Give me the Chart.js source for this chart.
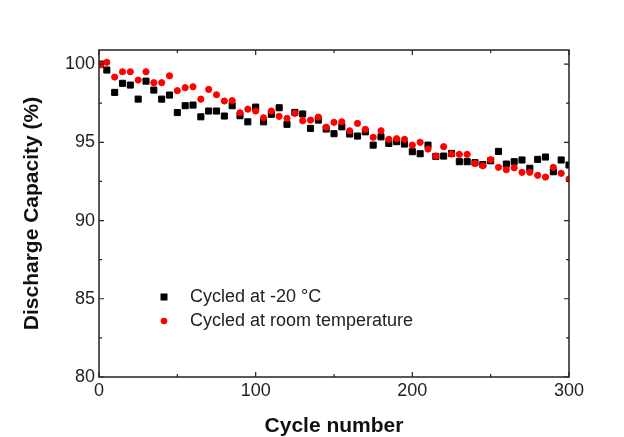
<!DOCTYPE html>
<html>
<head>
<meta charset="utf-8">
<script src="https://cdn.jsdelivr.net/npm/chart.js@4.4.1/dist/chart.umd.min.js"></script>
<style>
  html, body { margin: 0; padding: 0; background: #fff; }
</style>
</head>
<body>
<canvas id="grafico" width="624" height="437"></canvas>
<script>
// cycle numbers (x) shared by both series
const cicli = [1, 5, 10, 15, 20, 25, 30, 35, 40, 45, 50, 55, 60, 65, 70, 75, 80, 85, 90, 95,
    100, 105, 110, 115, 120, 125, 130, 135, 140, 145, 150, 155, 160, 165, 170, 175, 180, 185, 190, 195,
    200, 205, 210, 215, 220, 225, 230, 235, 240, 245, 250, 255, 260, 265, 270, 275, 280, 285, 290, 295, 300];

// cycled at -20 °C
const freddo = [100.0, 99.62, 98.19, 98.77, 98.66, 97.76, 98.91, 98.34, 97.76, 98.02,
    96.90, 97.34, 97.38, 96.63, 97.00, 97.00, 96.68, 97.34, 96.70, 96.31,
    97.25, 96.31, 96.79, 97.21, 96.15, 96.91, 96.81, 95.89, 96.42, 95.85,
    95.55, 95.99, 95.53, 95.40, 95.67, 94.82, 95.35, 94.93, 95.04, 94.89,
    94.40, 94.27, 94.82, 94.10, 94.12, 94.29, 93.76, 93.76, 93.70, 93.58,
    93.82, 94.42, 93.61, 93.76, 93.87, 93.34, 93.91, 94.06, 93.12, 93.87, 93.55];

// cycled at room temperature
const ambiente = [99.95, 100.11, 99.17, 99.51, 99.51, 98.98, 99.51, 98.81, 98.81, 99.25,
    98.30, 98.49, 98.55, 97.76, 98.38, 98.04, 97.64, 97.66, 96.89, 97.12,
    97.00, 96.57, 97.00, 96.66, 96.53, 96.85, 96.38, 96.42, 96.61, 95.97,
    96.28, 96.31, 95.74, 96.21, 95.83, 95.32, 95.74, 95.19, 95.23, 95.19,
    94.82, 95.00, 94.57, 94.12, 94.72, 94.25, 94.23, 94.23, 93.65, 93.50,
    93.89, 93.40, 93.25, 93.37, 93.08, 93.08, 92.89, 92.78, 93.40, 93.02, 92.65];

const xTicks = [0, 100, 200, 300];
const xMinori = [50, 150, 250];
const yTicks = [80, 85, 90, 95, 100];
const yMinori = [82.5, 87.5, 92.5, 97.5];
const etichette = ['Cycled at -20 \u00B0C', 'Cycled at room temperature'];

const FONT = 'Arial, "Liberation Sans", sans-serif';

function punti(ys) {
    return cicli.map((c, i) => ({ x: c, y: ys[i] }));
}

// frame, inward ticks on all four sides and the legend inside the plot
const cornice = {
    id: 'cornice',
    afterDraw(chart) {
        const ctx = chart.ctx;
        const a = chart.chartArea;
        const sx = chart.scales.x;
        const sy = chart.scales.y;
        ctx.save();
        ctx.strokeStyle = '#222';
        ctx.lineWidth = 1.5;
        ctx.strokeRect(a.left, a.top, a.right - a.left, a.bottom - a.top);

        ctx.lineWidth = 1.2;
        ctx.beginPath();
        function tickX(v, len) {
            const px = sx.getPixelForValue(v);
            ctx.moveTo(px, a.bottom); ctx.lineTo(px, a.bottom - len);
            ctx.moveTo(px, a.top); ctx.lineTo(px, a.top + len);
        }
        function tickY(v, len) {
            const py = sy.getPixelForValue(v);
            ctx.moveTo(a.left, py); ctx.lineTo(a.left + len, py);
            ctx.moveTo(a.right, py); ctx.lineTo(a.right - len, py);
        }
        xTicks.forEach(v => tickX(v, 5));
        xMinori.forEach(v => tickX(v, 3));
        yTicks.forEach(v => tickY(v, 5));
        yMinori.forEach(v => tickY(v, 3));
        ctx.stroke();

        // legend
        const lx = a.left + 65;
        const ly = a.top + 247;
        ctx.fillStyle = '#000';
        ctx.fillRect(lx - 3.5, ly - 3.5, 7, 7);
        ctx.fillStyle = '#f00';
        ctx.beginPath();
        ctx.arc(lx, ly + 24, 3.3, 0, Math.PI * 2);
        ctx.fill();
        ctx.fillStyle = '#222';
        ctx.font = '18px ' + FONT;
        ctx.textBaseline = 'middle';
        ctx.fillText(etichette[0], lx + 26, ly);
        ctx.fillText(etichette[1], lx + 26, ly + 24);
        ctx.restore();
    }
};

new Chart(document.getElementById('grafico').getContext('2d'), {
    type: 'scatter',
    data: {
        datasets: [{
            label: etichette[0],
            data: punti(freddo),
            pointStyle: 'rect',
            pointRadius: 4.3,
            pointBorderWidth: 1,
            backgroundColor: '#000',
            borderColor: '#000',
            order: 2
        }, {
            label: etichette[1],
            data: punti(ambiente),
            pointStyle: 'circle',
            pointRadius: 3.1,
            pointBorderWidth: 1,
            backgroundColor: '#f00',
            borderColor: '#f00',
            order: 1
        }]
    },
    options: {
        responsive: false,
        animation: false,
        layout: { padding: { left: 0, top: 50, right: 55, bottom: 0 } },
        plugins: {
            legend: { display: false },
            tooltip: { enabled: false }
        },
        scales: {
            x: {
                type: 'linear',
                min: 0,
                max: 300,
                afterFit: s => { s.height = 60; },
                afterBuildTicks: s => { s.ticks = xTicks.map(v => ({ value: v })); },
                grid: { display: false, drawTicks: false },
                border: { display: false },
                ticks: { padding: 3, maxRotation: 0, color: '#222', font: { family: FONT, size: 18 } },
                title: {
                    display: true,
                    text: 'Cycle number',
                    color: '#111',
                    font: { family: FONT, size: 21, weight: 'bold', lineHeight: 1 },
                    padding: { top: 0, bottom: 0 }
                }
            },
            y: {
                type: 'linear',
                min: 80,
                max: 100.9,
                afterFit: s => { s.width = 99; },
                afterBuildTicks: s => { s.ticks = yTicks.map(v => ({ value: v })); },
                grid: { display: false, drawTicks: false },
                border: { display: false },
                ticks: { padding: 4, color: '#222', font: { family: FONT, size: 18 } },
                title: {
                    display: true,
                    text: 'Discharge Capacity (%)',
                    color: '#111',
                    font: { family: FONT, size: 21, weight: 'bold', lineHeight: 1 },
                    padding: { top: 22, bottom: 0 }
                }
            }
        }
    },
    plugins: [cornice]
});
</script>
</body>
</html>
